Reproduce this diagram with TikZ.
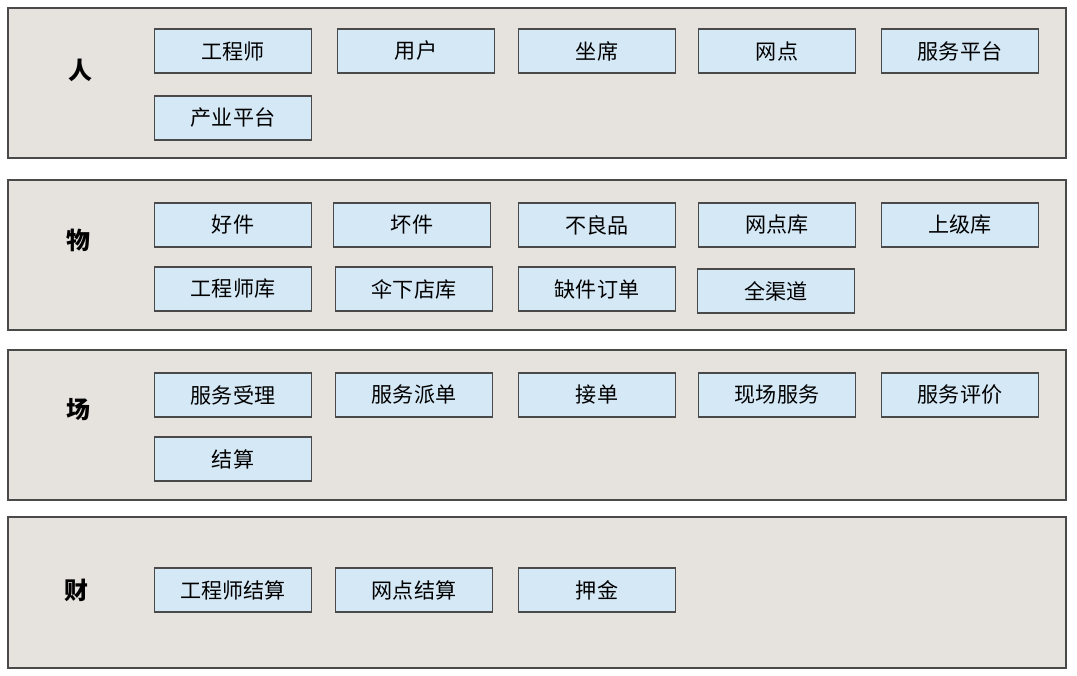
\documentclass[tikz,border=0pt]{standalone}
\usepackage{fontspec}
\setmainfont{Noto Sans CJK SC}
\usetikzlibrary{positioning}
\definecolor{cpanel}{HTML}{E6E2DE}
\definecolor{cbox}{HTML}{D5E8F6}
\definecolor{cedge}{HTML}{4A4A4A}
\tikzset{
Panel/.style={
	draw=cedge, line width=1.4pt,
	fill=cpanel
},
Item/.style={
	draw=cedge, line width=1pt,
	fill=cbox,
	minimum width=39.2mm, minimum height=11mm,
	font=\fontsize{15}{18}\selectfont
},
Layer/.style={
	font=\fontsize{17}{20}\selectfont\bfseries
}
}
\begin{document}
\begin{tikzpicture}[x=0.25mm, y=-0.25mm]
	\useasboundingbox (0,0) rectangle (1077,676);
	\draw[Panel] (8,8) rectangle (1066,158);
	\draw[Panel] (8,180) rectangle (1066,330);
	\draw[Panel] (8,350) rectangle (1066,500);
	\draw[Panel] (8,517) rectangle (1066,668);

	\node[Layer] (ren) at (80,70) {人};
	\node[Layer] (wu) at (78,240) {物};
	\node[Layer] (chang) at (78,410) {场};
	\node[Layer] (cai) at (76,590) {财};

	% people
	\node[Item] (gcs) at (233,51) {工程师};
	\node[Item] (yh) at (416,51) {用户};
	\node[Item] (zx) at (597,51) {坐席};
	\node[Item] (wd) at (777,51) {网点};
	\node[Item] (fwpt) at (960,51) {服务平台};
	\node[Item] (cypt) at (233,118) {产业平台};

	% goods
	\node[Item] (hj) at (233,225) {好件};
	\node[Item] (huaij) at (412,225) {坏件};
	\node[Item] (blp) at (597,225) {不良品};
	\node[Item] (wdk) at (777,225) {网点库};
	\node[Item] (sjk) at (960,225) {上级库};
	\node[Item] (gcsk) at (233,289) {工程师库};
	\node[Item] (sxdk) at (414,289) {伞下店库};
	\node[Item] (qjdd) at (597,289) {缺件订单};
	\node[Item] (qqd) at (776,291) {全渠道};

	% scenes
	\node[Item] (fwsl) at (233,395) {服务受理};
	\node[Item] (fwpd) at (414,395) {服务派单};
	\node[Item] (jd) at (597,395) {接单};
	\node[Item] (xcfw) at (777,395) {现场服务};
	\node[Item] (fwpj) at (960,395) {服务评价};
	\node[Item] (js) at (233,459) {结算};

	% finance
	\node[Item] (gcsjs) at (233,590) {工程师结算};
	\node[Item] (wdjs) at (414,590) {网点结算};
	\node[Item] (yj) at (597,590) {押金};
\end{tikzpicture}
\end{document}
